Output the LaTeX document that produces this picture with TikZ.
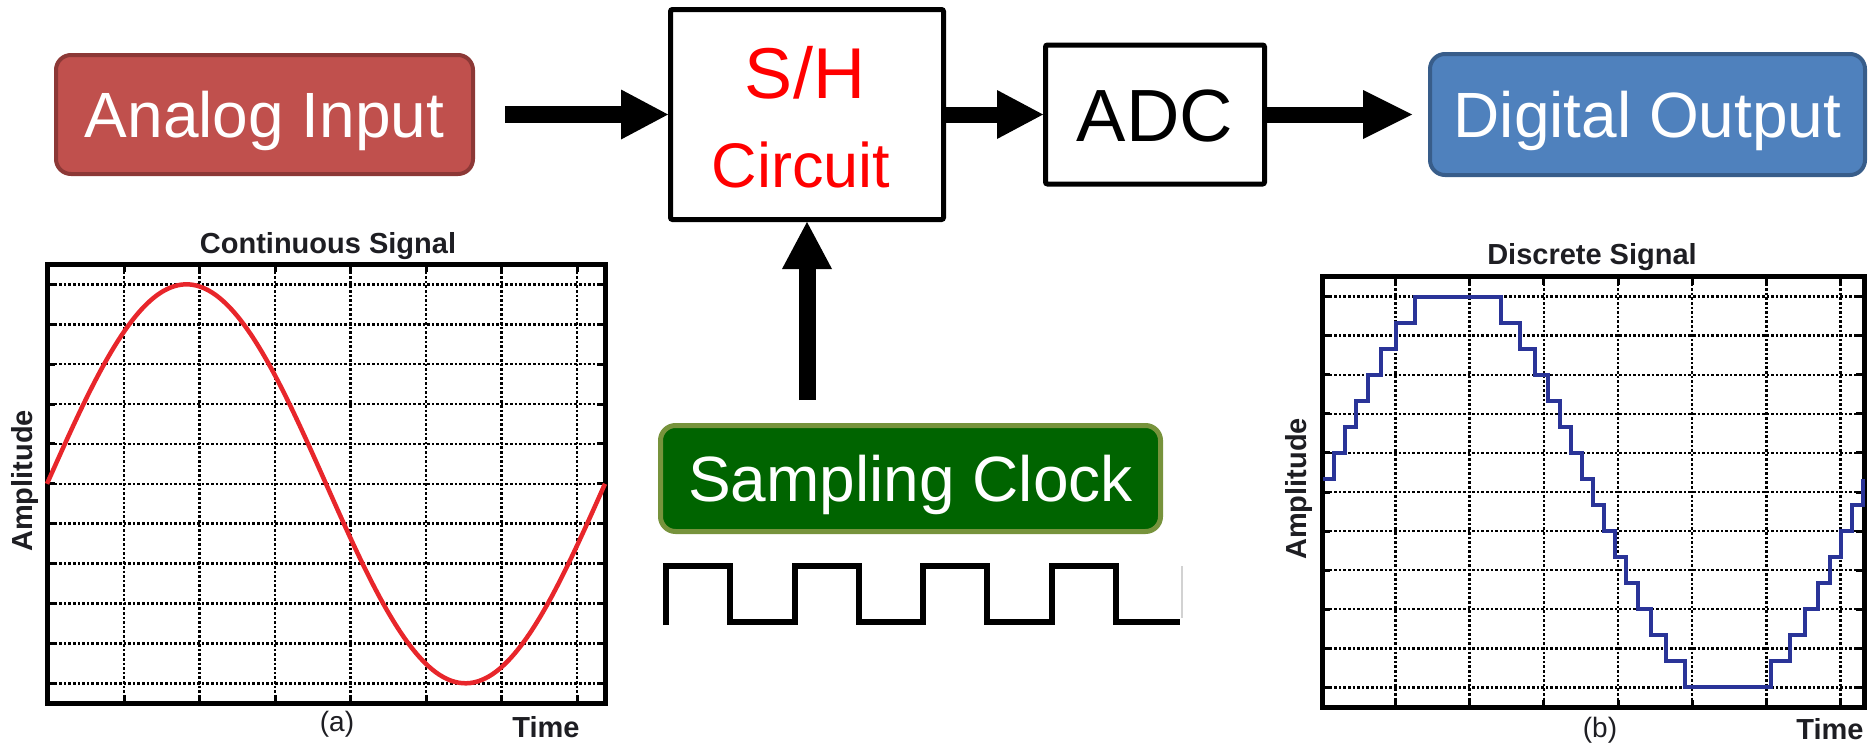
\documentclass[tikz,border=0pt]{standalone}
\usepackage{fontspec}
\setmainfont{Liberation Sans}
\usetikzlibrary{arrows.meta}
\definecolor{aiFill}{HTML}{C0504D}
\definecolor{aiLine}{HTML}{8C3836}
\definecolor{doFill}{HTML}{4F81BD}
\definecolor{doLine}{HTML}{385D8A}
\definecolor{scFill}{HTML}{006400}
\definecolor{scLine}{HTML}{77933C}
\definecolor{sigRed}{RGB}{232,38,43}
\definecolor{sigBlue}{RGB}{42,52,152}
\definecolor{lblCol}{RGB}{30,30,35}
\begin{document}
\begin{tikzpicture}[x=1pt,y=-1pt,
  rbox/.style={rounded corners=15pt, line width=4pt, text=white, inner sep=0pt,
    font=\fontsize{64}{64}\selectfont, text height=45.8pt, text depth=0pt},
  sqbox/.style={draw=black, line width=5pt, rounded corners=2pt, fill=white, inner sep=0pt},
  blk/.style={line width=17pt, -{Triangle[length=47pt,width=50pt,line width=0pt]}},
  gridln/.style={line width=2.6pt, dash pattern=on 2.6pt off 2pt},
  frm/.style={line width=5pt, line join=miter},
  tck/.style={line width=3pt},
  lbl/.style={inner sep=0pt, text=lblCol, font=\bfseries\fontsize{29}{29}\selectfont},
  lblr/.style={inner sep=0pt, text=lblCol, font=\fontsize{28}{28}\selectfont}
]
\useasboundingbox (0,0) rectangle (1868,745);

% ---------- block diagram ----------
\node[rbox, fill=aiFill, draw=aiLine, minimum width=417pt, minimum height=119pt] (ai) at (264.5,114.5) {Analog Input};
\node[sqbox, minimum width=273pt, minimum height=210pt] (sh) at (807,114.5) {};
\node[inner sep=0pt, text=red, font=\fontsize{72}{72}\selectfont, anchor=base] (shA) at (805,98) {S/H};
\node[inner sep=0pt, text=red, font=\fontsize{63}{63}\selectfont, anchor=base] (shB) at (801,187) {Circuit};
\node[sqbox, minimum width=219pt, minimum height=139pt, font=\fontsize{74}{74}\selectfont,
      text height=53pt, text depth=0pt] (adc) at (1155,114.5) {ADC};
\node[rbox, fill=doFill, draw=doLine, minimum width=435pt, minimum height=121pt] (do) at (1647.5,114.5) {Digital Output};
\node[rbox, fill=scFill, draw=scLine, line width=5pt, minimum width=500pt, minimum height=106pt] (sc) at (910.5,478.5) {Sampling Clock};

\coordinate (a1) at (505,114.5);
\coordinate (a3) at (1412,114.5);
\coordinate (clkup) at (807,400);
\draw[blk] (a1) -- (sh.west);
\draw[blk, line width=16pt, -{Triangle[length=46pt,width=49pt,line width=0pt]}] (sh.east) -- (adc.west);
\draw[blk, line width=16pt, -{Triangle[length=49pt,width=49pt,line width=0pt]}] (adc.east) -- (a3);
\draw[blk] (clkup) -- (sh.south);

% ---------- clock waveform ----------
\draw[line width=6pt, line join=miter] (666,625) -- (666,566)
  -- (730.25,566) -- (730.25,622) -- (794.5,622) -- (794.5,566)
  -- (858.75,566) -- (858.75,622) -- (923,622) -- (923,566)
  -- (987.25,566) -- (987.25,622) -- (1051.5,622) -- (1051.5,566)
  -- (1115.75,566) -- (1115.75,622) -- (1180,622);
\draw[gray!35, line width=1.2pt] (1182,566) -- (1182,618);

% ---------- continuous signal plot ----------
\foreach \k in {1,...,7} {
  \draw[gridln] ({48.5+75.5*\k},267) -- ({48.5+75.5*\k},700);
  \draw[tck] ({48.5+75.5*\k},703) -- ({48.5+75.5*\k},695);
  \draw[tck] ({48.5+75.5*\k},264) -- ({48.5+75.5*\k},272);
}
\foreach \j in {0,...,10} {
  \draw[gridln] (50,{284.3+39.9*\j}) -- (602,{284.3+39.9*\j});
  \draw[tck] (47,{284.3+39.9*\j}) -- (55,{284.3+39.9*\j});
  \draw[tck] (605,{284.3+39.9*\j}) -- (597,{284.3+39.9*\j});
}
\draw[frm] (47,264) rectangle (605,703);
\draw[sigRed, line width=4.5pt] plot[domain=0:360, samples=150, smooth] ({47+1.55*\x}, {483.8-199.5*sin(\x)});
\node[lbl, anchor=base] (t1) at (328,253) {Continuous Signal};
\node[lbl, rotate=90, anchor=base] (am1) at (32,481) {Amplitude};
\node[lblr, anchor=base] (la) at (337,731) {(a)};
\node[lbl, anchor=base] (tm1) at (546,737) {Time};

% ---------- discrete signal plot ----------
\foreach \k in {1,...,7} {
  \draw[gridln] ({1321.3+74.17*\k},279) -- ({1321.3+74.17*\k},705);
  \draw[tck] ({1321.3+74.17*\k},707.5) -- ({1321.3+74.17*\k},699.5);
  \draw[tck] ({1321.3+74.17*\k},276.5) -- ({1321.3+74.17*\k},284.5);
}
\foreach \j in {0,...,10} {
  \draw[gridln] (1325,{296.7+39.06*\j}) -- (1861,{296.7+39.06*\j});
  \draw[tck] (1322,{296.7+39.06*\j}) -- (1330,{296.7+39.06*\j});
  \draw[tck] (1864,{296.7+39.06*\j}) -- (1856,{296.7+39.06*\j});
}
\draw[frm] (1322,276.5) rectangle (1864,707.5);
\draw[sigBlue, line width=4pt, line join=miter] (1323,479.0)
  \foreach \xx/\kk in {1333.8/9, 1344.7/10, 1356.0/11, 1368/12, 1381.0/13, 1395.9/14, 1414.6/15,
     1501.4/14, 1520.1/13, 1535.0/12, 1548/11, 1560.0/10, 1571.3/9, 1582.2/8, 1593/7,
     1603.8/6, 1614.7/5, 1626.0/4, 1638/3, 1651.0/2, 1665.9/1, 1684.6/0,
     1771.4/1, 1790.1/2, 1805.0/3, 1818/4, 1830.0/5, 1841.3/6, 1852.2/7, 1863/8}
  { -| (\xx,{687.3-26.04*\kk}) };
\node[lbl, anchor=base] (t2) at (1592,264) {Discrete Signal};
\node[lbl, rotate=90, anchor=base] (am2) at (1306,489) {Amplitude};
\node[lblr, anchor=base] (lb) at (1600,737) {(b)};
\node[lbl, anchor=base] (tm2) at (1830,739) {Time};
\end{tikzpicture}
\end{document}
